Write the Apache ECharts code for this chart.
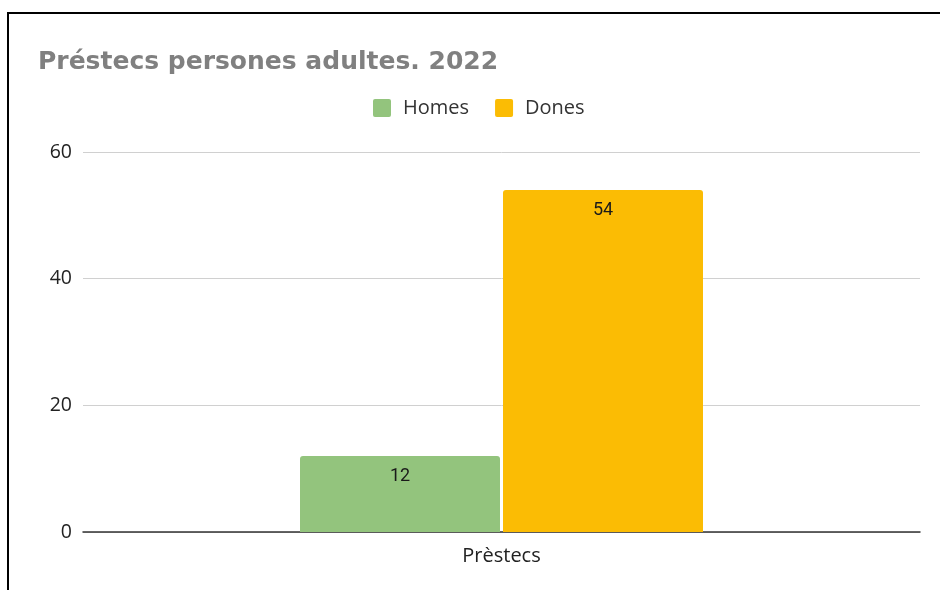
<!DOCTYPE html>
<html><head><meta charset="utf-8">
<script src="https://cdn.jsdelivr.net/npm/echarts@6/dist/echarts.min.js"></script>
<style>
html,body{margin:0;padding:0;background:#fff;}
#c{width:940px;height:590px;}
#frame{position:absolute;left:7px;top:12px;right:0;bottom:0;border-top:2px solid #000;border-left:2px solid #000;pointer-events:none;}
</style></head>
<body>
<div id="c"></div>
<div id="frame"></div>
<script>
const titleText = 'Préstecs persones adultes. 2022';
const categories = ['Prèstecs'];
const seriesNames = ['Homes', 'Dones'];
const homesValues = [12];
const donesValues = [54];
const yTicks = [0, 20, 40, 60];

const chart = echarts.init(document.getElementById('c'), null, {renderer: 'canvas'});
const labelStyle = {show: true, position: 'insideTop', distance: 11, color: '#1a1a1a', fontSize: 18, fontFamily: 'Roboto'};
chart.setOption({
  animation: false,
  backgroundColor: '#fff',
  title: {text: titleText, left: 33, top: 45,
    textStyle: {fontFamily: 'DejaVu Sans', fontWeight: 'bold', fontSize: 25, color: '#808080'}},
  legend: {data: seriesNames, top: 93, left: 368, itemWidth: 18, itemHeight: 18, itemGap: 26,
    icon: 'path://M2,0 L16,0 Q18,0 18,2 L18,16 Q18,18 16,18 L2,18 Q0,18 0,16 L0,2 Q0,0 2,0 Z',
    textStyle: {fontFamily: 'Open Sans', fontSize: 20, color: '#333', padding: [0,0,0,7]}},
  grid: {left: 83, right: 20, top: 152, bottom: 58},
  xAxis: {type: 'category', data: categories,
    axisLine: {lineStyle: {color: '#333', width: 1.5}}, axisTick: {show: false},
    axisLabel: {fontFamily: 'Open Sans', fontSize: 20, color: '#222', margin: 14}},
  yAxis: {type: 'value', min: yTicks[0], max: yTicks[yTicks.length-1], interval: 20,
    axisLine: {show: false}, axisTick: {show: false},
    splitLine: {lineStyle: {color: '#d0d0d0', width: 1}},
    axisLabel: {fontFamily: 'Open Sans', fontSize: 19.5, color: '#222', margin: 11}},
  series: [
    {name: seriesNames[0], type: 'bar', data: homesValues, barWidth: 200, barGap: '1.5%',
     itemStyle: {color: '#93c47d', borderRadius: [3,3,0,0]}, label: labelStyle},
    {name: seriesNames[1], type: 'bar', data: donesValues, barWidth: 200,
     itemStyle: {color: '#fbbc04', borderRadius: [3,3,0,0]}, label: labelStyle}
  ]
});
</script>
</body></html>
